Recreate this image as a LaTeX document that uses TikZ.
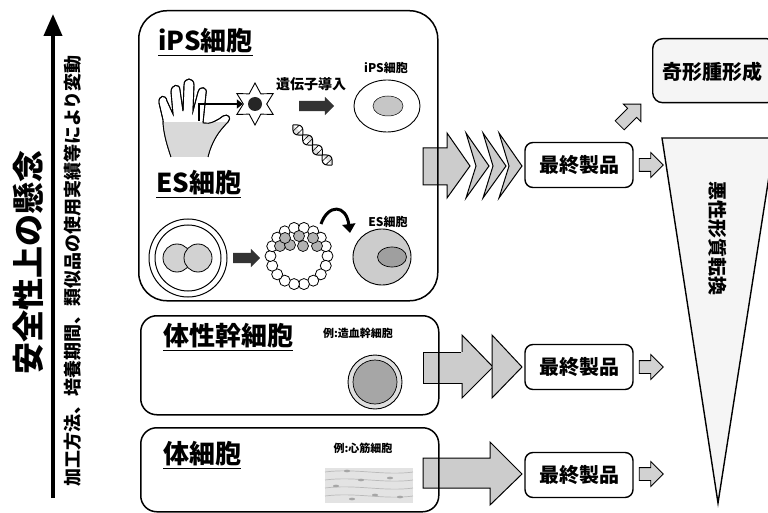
\documentclass[tikz,border=0pt]{standalone}
\usepackage{fontspec}
\setmainfont{Noto Sans CJK JP}
\usetikzlibrary{arrows.meta, shapes.geometric, shapes.arrows, calc}
\tikzset{
  jpb/.style={font=\bfseries\fontsize{#1}{#1}\selectfont, inner sep=0pt},
  cellbox/.style={draw, line width=1.5pt, anchor=north west},
  finalbox/.style={draw, line width=1.4pt, rounded corners=8pt, minimum width=108pt, minimum height=45pt, font=\bfseries\fontsize{20}{20}\selectfont, inner sep=0pt},
  grayarrow/.style={single arrow, draw, line width=0.8pt, fill=gray!35, single arrow head extend=6pt, inner sep=6pt, minimum height=24pt},
  blockfill/.style={draw, line width=1pt, fill=gray!40},
  darkarrow/.style={single arrow, fill=black!80, inner sep=5pt, single arrow head extend=4pt},
  stipple/.style={fill=gray!8},
}
\def\handpath{(171,157) .. controls (167,145) and (163,132) .. (163,120) -- (159,103) .. controls (158,95) and (166,94) .. (167,101) -- (173,114) -- (171,92) .. controls (171,84) and (180,83) .. (180,90) -- (183,111) -- (184,85) .. controls (184,77) and (194,77) .. (194,85) -- (193,111) -- (198,92) .. controls (200,85) and (208,87) .. (206,94) -- (203,123) .. controls (210,125) and (218,120) .. (223,116) .. controls (228,113) and (232,118) .. (228,122) .. controls (220,130) and (212,140) .. (208,157)}
\begin{document}
\begin{tikzpicture}[x=1pt, y=-1pt]
\useasboundingbox (0,0) rectangle (768,513);

% ---- left axis ----
\coordinate (axbot) at (53,498);
\coordinate (axtop) at (53,14);
\draw[line width=4pt, -{Triangle[length=22pt,width=18pt]}] (axbot) -- (axtop);
\node[jpb=32, rotate=90] (safety) at (28,262) {安全性上の懸念};
\node[jpb=18, rotate=90] (vary) at (73,271) {加工方法、培養期間、類似品の使用実績等により変動};

% ---- arrows from cell boxes (drawn first, boxes on top) ----
\draw[blockfill] (423,148) -- (447,148) -- (447,133) -- (470,166) -- (447,198) -- (447,185) -- (423,185) -- cycle;
\foreach \b in {466,483,499}{
  \draw[blockfill] (\b,133) -- ({\b+23},166) -- (\b,198) -- ({\b+10},166) -- cycle;
}
\draw[blockfill] (423,352) rectangle (472,383);
\draw[blockfill] (462,335) -- (493,367) -- (462,398) -- cycle;
\fill[gray!40] (461,352) rectangle (470,383);
\draw[blockfill] (492,335) -- (522,367) -- (492,398) -- cycle;
\draw[blockfill] (423,458) -- (490,458) -- (490,442) -- (522,474) -- (490,505) -- (490,488) -- (423,488) -- cycle;

% ---- iPS / ES box ----
\node[cellbox, rounded corners=28pt, minimum width=299pt, minimum height=290pt] (ipsbox) at (138,10) {};
\node[jpb=26, anchor=west] (ipstitle) at (158,42) {\underline{iPS細胞}};

% hand
\draw[line width=0.9pt, fill=white] \handpath;
\begin{scope}
  \clip \handpath -- cycle;
  \fill[gray!30] (158,122) rectangle (235,160);
\end{scope}
\draw[line width=0.9pt] \handpath;
\coordinate (handpt) at (199,121);
\node[star, star points=6, star point ratio=1.8, draw, line width=0.9pt, minimum size=42pt, inner sep=0pt] (star) at (255,104) {};
\fill[black!85] (star.center) circle (7pt);
\draw[line width=2.6pt, -{Triangle[length=6pt,width=9pt]}] (handpt) |- (star.west);
\node[jpb=14] (gene) at (311,84) {遺伝子導入};
\node[darkarrow, minimum height=35pt] (genearrow) at (314,106) {};
% DNA
\draw[line width=1pt, fill=gray!25] plot[domain=0:1, samples=40] ({293+39*\x-5*sin(720*\x)*0.71},{125+40*\x+5*sin(720*\x)*0.70});
\draw[line width=1pt] plot[domain=0:1, samples=40] ({293+39*\x+5*sin(720*\x)*0.71},{125+40*\x-5*sin(720*\x)*0.70});
\foreach \t in {0.08,0.17,0.33,0.42,0.58,0.67,0.83,0.92}{
  \draw[line width=0.6pt] ({293+39*\t-5*sin(720*\t)*0.71},{125+40*\t+5*sin(720*\t)*0.70}) -- ({293+39*\t+5*sin(720*\t)*0.71},{125+40*\t-5*sin(720*\t)*0.70});
}
\node[jpb=12] (ipslabel) at (386,68) {iPS細胞};
\node[draw, line width=0.9pt, ellipse, minimum width=66pt, minimum height=52pt] (ipscell) at (387,106) {};
\node[draw, line width=0.5pt, ellipse, fill=gray!45, minimum width=30pt, minimum height=20pt] (ipsnuc) at (388,106) {};

% ES
\node[jpb=26, anchor=west] (estitle) at (156,184) {\underline{ES細胞}};
\node[draw, circle, line width=1pt, minimum size=78pt] (embryo) at (188,258) {};
\node[draw, circle, line width=1pt, minimum size=66pt] (embryoin) at (188,258) {};
\node[draw, circle, line width=0.8pt, fill=gray!35, minimum size=28pt] (bl1) at (177,258) {};
\node[draw, circle, line width=0.8pt, fill=gray!35, minimum size=28pt] (bl2) at (198,258) {};
\node[darkarrow, minimum height=27pt] (esarrow) at (244,258) {};
\foreach \a in {0,20,...,340}{
  \draw[line width=0.8pt, fill=white] ($(299,256)+(\a:28.5)$) circle (5.5pt);
}
\foreach \p in {(280,246),(290,245),(303,246),(317,246),(285,238),(299,236),(313,238)}{
  \draw[line width=0.7pt, fill=gray!60] \p circle (5.5pt);
}
\coordinate (cA) at (321,224);
\coordinate (cB) at (350,233);
\draw[line width=3pt, -{Triangle[length=9pt,width=13pt]}] (cA) .. controls (328,204) and (346,204) .. (cB);
\node[jpb=12] (eslabel) at (388,222) {ES細胞};
\node[draw, line width=0.9pt, ellipse, fill=gray!40, minimum width=58pt, minimum height=56pt] (escell) at (382,257) {};
\node[draw, line width=0.7pt, ellipse, fill=gray!75, minimum width=29pt, minimum height=20pt] (esnuc) at (392,257) {};

% ---- somatic stem cell box ----
\node[cellbox, rounded corners=16pt, minimum width=298pt, minimum height=99pt] (ssbox) at (140,315) {};
\node[jpb=26, anchor=west] (sstitle) at (163,337) {\underline{体性幹細胞}};
\node[jpb=11] (ssex) at (358,333) {例:造血幹細胞};
\node[draw, circle, line width=0.9pt, fill=gray!25, minimum size=54pt] (hsc) at (375,382) {};
\node[draw, circle, line width=0.7pt, fill=gray!70, minimum size=44pt] (hscin) at (375,382) {};

% ---- somatic cell box ----
\node[cellbox, rounded corners=16pt, minimum width=298pt, minimum height=84pt] (scbox) at (140,427) {};
\node[jpb=26, anchor=west] (sctitle) at (163,455) {\underline{体細胞}};
\node[jpb=11] (scex) at (363,448) {例:心筋細胞};
\fill[gray!22] (325,468) rectangle (413,503);
\foreach \y in {472,480,488,496}{
  \draw[gray!55, line width=0.7pt] (325,\y) .. controls (355,\y-4) and (385,\y+4) .. (413,\y);
}
\foreach \p in {(347,471),(361,480),(336,486),(390,478),(375,495),(352,499),(400,497)}{
  \fill[gray!70] \p ellipse (3pt and 1.3pt);
}

% ---- final products ----
\node[finalbox] (final1) at (579,165) {最終製品};
\node[finalbox] (final2) at (579,367) {最終製品};
\node[finalbox] (final3) at (579,475) {最終製品};
\node[grayarrow] (sa1) at (648,165) {};
\node[grayarrow] (sa2) at (648,367) {};
\node[grayarrow] (sa3) at (648,474) {};
\node[grayarrow, rotate=45, minimum height=30pt] (sadiag) at (628,117) {};

% ---- teratoma and malignant transformation ----
\node[draw, line width=1.4pt, rounded corners=10pt, stipple, anchor=north west, minimum width=124pt, minimum height=64pt] (terabox) at (652,38) {};
\node[jpb=20] (tera) at (712,72) {奇形腫形成};
\coordinate (tl) at (662,138);
\coordinate (tr) at (775,138);
\coordinate (tb) at (718,503);
\draw[line width=1.4pt, stipple] (tl) -- (tr) -- (tb) -- cycle;
\node[jpb=19, rotate=-90] (malig) at (718,239) {悪性形質転換};
\end{tikzpicture}
\end{document}
